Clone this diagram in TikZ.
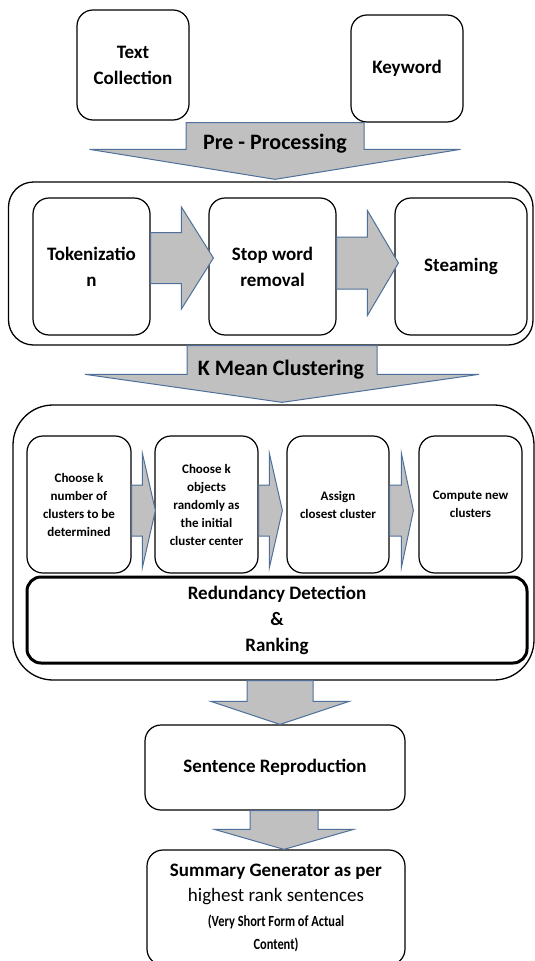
\documentclass[tikz,border=0pt]{standalone}
\usepackage{fontspec}
\setmainfont{Carlito}
\usetikzlibrary{calc}

\definecolor{arrowfill}{RGB}{192,192,192}
\definecolor{arrowline}{RGB}{79,112,154}

\tikzset{
  box/.style={draw, line width=1.2pt, rounded corners=16pt, inner sep=0pt, align=center,
    font=\bfseries\fontsize{19}{26}\selectfont},
  stepbox/.style={box, font=\bfseries\fontsize{13}{18}\selectfont},
  frame/.style={draw, line width=1.3pt, rounded corners=#1, inner sep=0pt},
  blockarrow/.style={draw=arrowline, fill=arrowfill, line width=1pt, line join=miter},
  arrowlabel/.style={font=\bfseries\fontsize{22}{26}\selectfont}
}

% sipka doprava: odkud, kam, stred y, pul driku, pul hlavy, delka hlavy, presah
\newcommand{\rightblock}[7]{%
  \draw[blockarrow] let \p1=(#1.east), \p2=(#2.west), \p3=(0,#3) in
    (\x1,{\y3+#4}) -- ({\x2-#6+(#7)},{\y3+#4}) -- ({\x2-#6+(#7)},{\y3+#5}) -- ({\x2+(#7)},\y3)
    -- ({\x2-#6+(#7)},{\y3-#5}) -- ({\x2-#6+(#7)},{\y3-#4}) -- (\x1,{\y3-#4}) -- cycle;}
% sipka dolu: odkud, kam, stred x, pul driku, pul hlavy, delka hlavy, presah
\newcommand{\downblock}[7]{%
  \draw[blockarrow] let \p1=(#1.south), \p2=(#2.north), \p3=(#3,0) in
    ({\x3-#4},\y1) -- ({\x3-#4},{\y2+#6}) -- ({\x3-#5},{\y2+#6}) -- (\x3,{\y2-(#7)})
    -- ({\x3+#5},{\y2+#6}) -- ({\x3+#4},{\y2+#6}) -- ({\x3+#4},\y1) -- cycle;}
% zuzene pismo poznamky
\newcommand{\narrow}[1]{\scalebox{0.8}[1]{\bfseries\fontsize{15.5}{22}\selectfont #1}}

\begin{document}
\begin{tikzpicture}[x=1pt,y=-1pt]
  \useasboundingbox (0,0) rectangle (535,961);

  % vstupy
  \node[box, minimum width=112, minimum height=110] (txtcoll) at (133,65) {Text\\Collection};
  \node[box, minimum width=112, minimum height=107] (keyword) at (407,68.5) {Keyword};

  % predzpracovani
  \node[frame=25pt, minimum width=524.5, minimum height=163] (prepro) at (270.75,263.5) {};
  \node[box, minimum width=117, minimum height=137] (tok) at (91.5,266.5) {Tokenizatio\\n};
  \node[box, minimum width=127, minimum height=137] (stopword) at (272.5,266.5) {Stop word\\removal};
  \node[box, minimum width=132, minimum height=137] (steam) at (461,266.5) {Steaming};

  % shlukovani
  \node[frame=40pt, minimum width=521, minimum height=275] (kmeans) at (273.5,542.5) {};
  \node[stepbox, minimum width=104, minimum height=137] (choosek) at (79,504.5)
    {Choose k\\number of\\clusters to be\\determined};
  \node[stepbox, minimum width=103, minimum height=137] (chooseobj) at (206.5,504.5)
    {Choose k\\objects\\randomly as\\the initial\\cluster center};
  \node[stepbox, minimum width=102, minimum height=137] (assign) at (338,504.5)
    {Assign\\closest cluster};
  \node[stepbox, minimum width=103, minimum height=137] (compute) at (470.5,504.5)
    {Compute new\\clusters};
  \node[box, line width=3pt, rounded corners=14pt, minimum width=500, minimum height=86] (redund)
    at (277,620) {Redundancy Detection\\\&\\Ranking};

  % vystup
  \node[box, minimum width=260, minimum height=85] (sentrep) at (275,767.5) {Sentence Reproduction};
  \node[box, minimum width=258, minimum height=115, font=\fontsize{19}{25}\selectfont] (summary)
    at (276,907.5) {\textbf{Summary Generator as per}\\highest rank sentences\\
    \narrow{(Very Short Form of Actual}\\[-2pt]
    \narrow{Content)}};

  % blokove sipky
  \downblock{keyword}{prepro}{275}{89}{185.5}{32}{-2}
  \rightblock{tok}{stopword}{258}{25.5}{51}{32}{5}
  \rightblock{stopword}{steam}{263}{26}{52.5}{31}{4}
  \downblock{prepro}{kmeans}{282}{95}{197}{30}{-2}
  \rightblock{choosek}{chooseobj}{510.5}{25.5}{57}{13}{1}
  \rightblock{chooseobj}{assign}{510.5}{25.5}{57}{13}{-4}
  \rightblock{assign}{compute}{510.5}{25.5}{57}{12}{-5}
  \downblock{kmeans}{sentrep}{280}{33}{69}{23}{0}
  \downblock{sentrep}{summary}{284}{34}{69.5}{20}{0}

  \node[arrowlabel] (prelabel) at (275,144) {Pre - Processing};
  \node[arrowlabel] (kmlabel) at (281,370) {K Mean Clustering};
\end{tikzpicture}
\end{document}
